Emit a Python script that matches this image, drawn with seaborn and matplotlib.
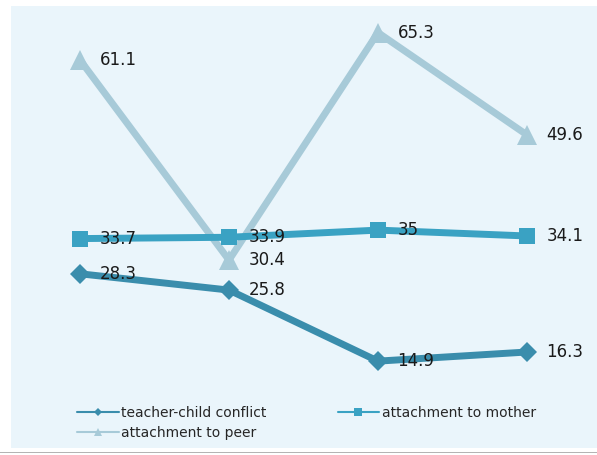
import matplotlib
matplotlib.use("Agg")
import matplotlib.pyplot as plt
from matplotlib.patches import Rectangle
from matplotlib.lines import Line2D
import seaborn as sns
import pandas as pd

groups = ["G1", "G2", "G3", "G4"]
teacher_child_conflict = [28.3, 25.8, 14.9, 16.3]
attachment_to_mother = [33.7, 33.9, 35.0, 34.1]
attachment_to_peer = [61.1, 30.4, 65.3, 49.6]
series_names = ["teacher-child conflict", "attachment to mother", "attachment to peer"]
label_texts = {
    "teacher-child conflict": ["28.3", "25.8", "14.9", "16.3"],
    "attachment to mother": ["33.7", "33.9", "35", "34.1"],
    "attachment to peer": ["61.1", "30.4", "65.3", "49.6"],
}

sns.set_theme(style="white")
plt.rcParams['font.family'] = ['DejaVu Sans']

fig = plt.figure(figsize=(5.97, 4.55), dpi=100)
fig.patch.set_facecolor("white")
W, H = 597, 455
# light blue chart area and bottom rule
fig.patches.append(Rectangle((11 / W, (H - 448) / H), (W - 11) / W, (448 - 6) / H,
                             transform=fig.transFigure, facecolor="#eaf5fb",
                             edgecolor="none", zorder=-2))
fig.patches.append(Rectangle((0, (H - 453) / H), 1, 1.5 / H,
                             transform=fig.transFigure, facecolor="#b4b4b4",
                             edgecolor="none", zorder=-2))

ax = fig.add_axes([0, 0, 1, 1])
ax.set_facecolor("none")

styles = {
    "attachment to peer": dict(color="#a7cad8", marker="^", ms=14, lw=5.0, z=2),
    "attachment to mother": dict(color="#3aa2c3", marker="s", ms=12, lw=5.0, z=3),
    "teacher-child conflict": dict(color="#3a8dac", marker="D", ms=10, lw=5.0, z=4),
}
values = {
    "teacher-child conflict": teacher_child_conflict,
    "attachment to mother": attachment_to_mother,
    "attachment to peer": attachment_to_peer,
}

for name in ["attachment to peer", "attachment to mother", "teacher-child conflict"]:
    st = styles[name]
    df = pd.DataFrame({"group": groups, "value": values[name]})
    sns.lineplot(data=df, x="group", y="value", ax=ax, color=st["color"],
                 marker=st["marker"], markersize=st["ms"], linewidth=st["lw"],
                 markeredgewidth=0, zorder=st["z"], sort=False, legend=False)

for name in series_names:
    for i, (v, t) in enumerate(zip(values[name], label_texts[name])):
        ax.annotate(t, (i, v), xytext=(14, 0), textcoords="offset points",
                    ha="left", va="center", fontsize=12, color="#1a1a1a", zorder=6)

ax.set_xlim(-0.537, 3.47)
ax.set_ylim(0.5, 70.3)
ax.axis("off")

handles = {
    name: Line2D([], [], color=styles[name]["color"], marker=styles[name]["marker"],
                 markersize={"^": 6, "s": 6, "D": 4.5}[styles[name]["marker"]],
                 linewidth=1.5, markeredgewidth=0)
    for name in series_names
}
order = ["teacher-child conflict", "attachment to peer", "attachment to mother"]
ax.legend([handles[n] for n in order], order, ncol=2, loc="upper left",
          bbox_to_anchor=(77 / W, 1 - 406 / H), frameon=False, fontsize=10,
          handlelength=3.0, handletextpad=0.2, columnspacing=5.1,
          labelspacing=0.4, borderpad=0.0, borderaxespad=0.0)

fig.savefig("out.png", dpi=100, facecolor="white")
